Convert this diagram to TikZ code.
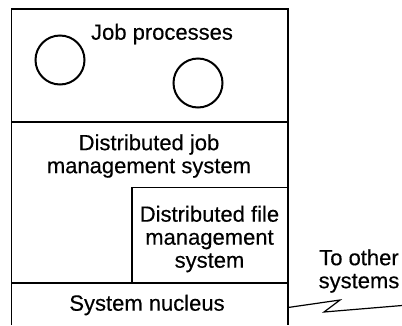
\documentclass[tikz,border=0pt]{standalone}
\usepackage{fontspec}
\setmainfont{Liberation Sans}
\newfontfamily\labelfont{Liberation Sans}[FakeBold=0.35]
\begin{document}
\begin{tikzpicture}[x=1pt,y=-1pt,
  frame/.style={line width=1.7pt},
  proc/.style={circle,draw,line width=2pt,minimum size=49pt,inner sep=0pt},
  label/.style={align=center,inner sep=0pt,font=\labelfont\fontsize{22}{23}\selectfont}]
\useasboundingbox (0,0) rectangle (402,325);
% outer frame, open at the bottom
\coordinate (bl) at (11.5,325);
\coordinate (tl) at (11.5,9);
\coordinate (tr) at (288,9);
\coordinate (br) at (288,325);
\draw[frame] (bl) -- (tl) -- (tr) -- (br);
% layer dividers
\coordinate (d1l) at (11.5,122);
\coordinate (d1r) at (288,122);
\draw[frame] (d1l) -- (d1r);
\coordinate (d2l) at (11.5,283);
\coordinate (d2r) at (288,283);
\draw[frame] (d2l) -- (d2r);
% file management box inside the job management layer
\coordinate (fb) at (132,283);
\coordinate (ft) at (132,187.5);
\coordinate (fr) at (288,187.5);
\draw[frame] (fb) -- (ft) -- (fr);
% job processes
\node[proc] (p1) at (60,60) {};
\node[proc] (p2) at (198,83) {};
\node[label] (jp) at (162,34) {Job processes};
\node[label] (djm) at (149,156) {Distributed job\\management system};
\node[label] (dfm) at (209.5,239) {Distributed file\\management\\system};
\node[label] (sn) at (147,305) {System nucleus};
\node[label] (tos) at (359,271) {To other\\systems};
% link to other systems
\coordinate (z0) at (288,307.5);
\coordinate (z1) at (340,300);
\coordinate (z2) at (324,312);
\coordinate (z3) at (402,305.5);
\draw[line width=1.2pt,line join=miter] (z0) -- (z1) -- (z2) -- (z3);
\end{tikzpicture}
\end{document}
